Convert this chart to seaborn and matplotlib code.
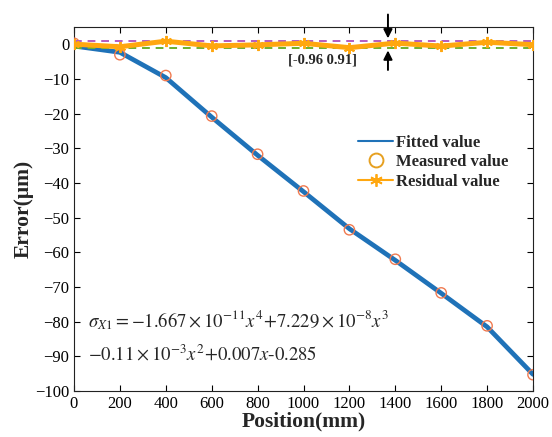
import numpy as np
import pandas as pd
import matplotlib
matplotlib.use("Agg")
import matplotlib.pyplot as plt
import seaborn as sns
from matplotlib.lines import Line2D

position = [0, 200, 400, 600, 800, 1000, 1200, 1400, 1600, 1800, 2000]
measured = [0.3, -3.0, -9.0, -20.7, -31.7, -42.3, -53.5, -62.0, -71.7, -81.2, -95.3]
fitted = [-0.5, -2.3, -9.6, -21.0, -32.0, -42.5, -53.2, -62.3, -71.8, -81.5, -95.2]
residual = [0.05, -0.7, 0.91, -0.45, -0.15, 0.3, -0.96, 0.35, -0.5, 0.6, -0.1]
res_upper = 0.91
res_lower = -0.96
xticks = list(range(0, 2001, 200))
yticks = list(range(-100, 1, 10))

df = pd.DataFrame({"Position": position, "Measured": measured,
                   "Fitted": fitted, "Residual": residual})

sns.set_style("ticks")
plt.rcParams['font.family'] = ['Liberation Serif', 'DejaVu Serif']
plt.rcParams['mathtext.fontset'] = 'stix'
plt.rcParams['axes.unicode_minus'] = True

fig = plt.figure(figsize=(5.52, 4.37), dpi=100)
ax = fig.add_axes([74/552, 1-391/437, 459/552, 364/437])

blue = '#1F72B8'
orange = '#FFA70F'
circ = '#F07A50'

sns.lineplot(data=df, x="Position", y="Fitted", ax=ax, color=blue, lw=3.4, zorder=2)
sns.scatterplot(data=df, x="Position", y="Measured", ax=ax, marker='o', s=55,
                facecolor='none', edgecolor=circ, linewidth=1.0, zorder=3)
ax.axhline(res_upper, color='#B35CBF', lw=1.4, ls=(0, (4, 3)), zorder=4)
ax.axhline(res_lower, color='#6CB02E', lw=1.4, ls=(0, (4, 3)), zorder=4)
sns.lineplot(data=df, x="Position", y="Residual", ax=ax, color=orange, lw=3.6,
             marker=(6, 2, 0), markersize=8, markeredgecolor=orange,
             markeredgewidth=1.4, zorder=5)

# arrows for residual range
ax.annotate('', xy=(1368, res_upper), xytext=(1368, 9.4),
            arrowprops=dict(arrowstyle='-|>', color='black', lw=1.4,
                            mutation_scale=13), annotation_clip=False)
ax.annotate('', xy=(1368, res_lower), xytext=(1368, -8.2),
            arrowprops=dict(arrowstyle='-|>', color='black', lw=1.4,
                            mutation_scale=13), annotation_clip=False)
ax.text(1081, -4.6, '[-0.96 0.91]', ha='center', va='center', fontsize=10.5,
        fontweight='bold')

ax.set_xlim(0, 2000)
ax.set_ylim(-100, 5)
ax.set_xticks(xticks)
ax.set_yticks(yticks)
ax.tick_params(direction='in', top=True, right=True, length=4, width=0.8,
               labelsize=12, colors='black')
for sp in ax.spines.values():
    sp.set_visible(True)
    sp.set_linewidth(0.8)
    sp.set_color('#222222')

ax.set_xlabel('Position(mm)', fontsize=15.5, fontweight='bold', labelpad=0)
ax.set_ylabel('Error(μm)', fontsize=15.5, fontweight='bold', labelpad=1)

ax.text(0.03, 0.195, r'$\sigma_{X1}=-1.667\times10^{-11}x^4\!+\!7.229\times10^{-8}x^3$',
        transform=ax.transAxes, fontsize=13.5, va='center', ha='left')
ax.text(0.03, 0.10, r'$-0.11\times10^{-3}x^2\!+\!0.007x$-$0.285$',
        transform=ax.transAxes, fontsize=13.5, va='center', ha='left')

handles = [
    Line2D([], [], color=blue, lw=1.5),
    Line2D([], [], color='#E6A020', lw=0, marker='o', markersize=10,
           markerfacecolor='none', markeredgewidth=1.4),
    Line2D([], [], color=orange, lw=1.5, marker=(6, 2, 0), markersize=9,
           markeredgewidth=1.3),
]
leg = ax.legend(handles, ['Fitted value', 'Measured value', 'Residual value'],
                loc='upper left', bbox_to_anchor=(358/552, 1-135/437),
                bbox_transform=fig.transFigure, frameon=False,
                prop={'weight': 'bold', 'size': 12}, handlelength=2.1,
                handletextpad=0.15, labelspacing=0.2, borderaxespad=0,
                borderpad=0)

fig.savefig('out.png', dpi=100)
